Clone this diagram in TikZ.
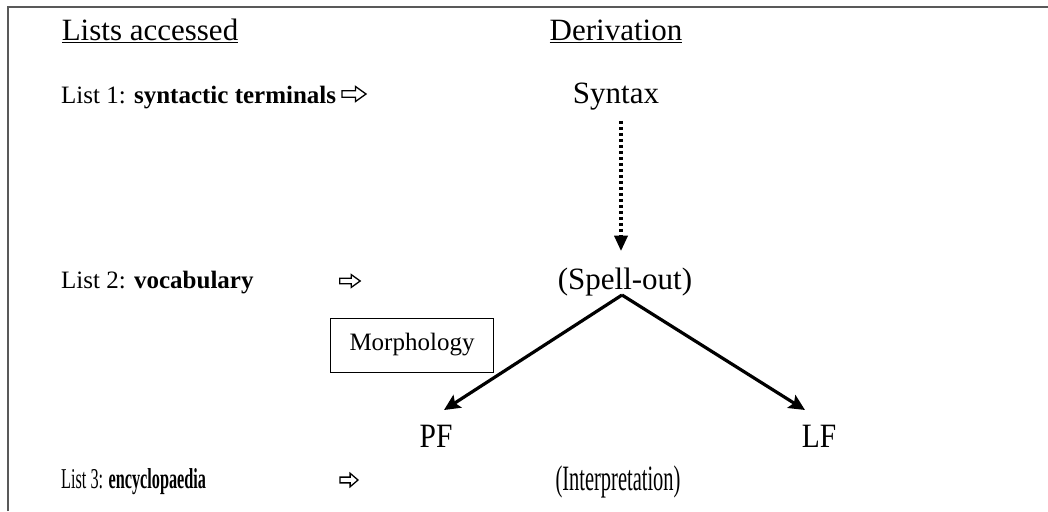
\documentclass[tikz,border=0pt]{standalone}
\usepackage{fontspec}
\setmainfont{Liberation Serif}
\usetikzlibrary{arrows.meta,calc}
\begin{document}
\begin{tikzpicture}[x=1pt,y=-1pt,
  head/.style={font=\fontsize{31}{36}\selectfont, inner sep=0pt},
  deriv/.style={font=\fontsize{31}{36}\selectfont, inner sep=0pt},
  listlab/.style={font=\fontsize{25}{30}\selectfont, anchor=west, inner sep=0pt},
  hollowarrow/.pic={\draw[line width=1.3pt, line join=miter, fill=white]
     (-12,-3.2) -- (1.5,-3.2) -- (1.5,-7.5) -- (12,0) -- (1.5,7.5) -- (1.5,3.2) -- (-12,3.2) -- cycle;},
  branch/.style={line width=3.2pt, -{Stealth[length=16pt,width=15pt,inset=3pt]}},
  morph/.style={draw, line width=0.8pt, minimum width=163pt, minimum height=54pt, font=\fontsize{25}{29}\selectfont}
]
\useasboundingbox (0,0) rectangle (1048,511);
\fill[white] (0,0) rectangle (1048,511);
\draw[line width=2pt, black!65] (8,511) -- (8,7) -- (1048,7);

\node[head] (la) at (150,31) {\underline{Lists accessed}};
\node[head] (dv) at (616,31) {\underline{Derivation}};

\node[listlab] (l1) at (61,98) {List 1: \textbf{syntactic terminals}};
\pic at (354,94) {hollowarrow};
\node[deriv] (syn) at (616,97) {Syntax};

\node[listlab] (l2) at (61,283) {List 2: \textbf{vocabulary}};
\pic[scale=0.85] at (350,281) {hollowarrow};
\node[deriv] (spell) at (625,282) {(Spell-out)};

\node[morph] (mo) at (412,345) {Morphology};

\node[deriv] (pf) at (436,436) {\scalebox{0.95}[1.1]{PF}};
\node[deriv] (lf) at (819,436) {\scalebox{0.95}[1.1]{LF}};

\node[listlab] (l3) at (61,482) {\scalebox{0.65}[1.15]{List 3: \textbf{encyclopaedia}}};
\pic[xscale=0.75,yscale=0.9] at (349,480) {hollowarrow};
\node[deriv] (interp) at (618,482) {\scalebox{0.66}[1.15]{(Interpretation)}};

\coordinate (apex) at (622,295);
\coordinate (pfend) at (444,410);
\coordinate (lfend) at (805,410);
\draw[line width=4pt, dash pattern=on 3.5pt off 2.5pt, -{Triangle[length=15pt,width=14pt,line width=0pt]}] ($(syn.south)+(5,10)$) -- ($(spell.north)+(-4,-17)$);
\draw[branch] (apex) -- (pfend);
\draw[branch] (apex) -- (lfend);
\end{tikzpicture}
\end{document}
